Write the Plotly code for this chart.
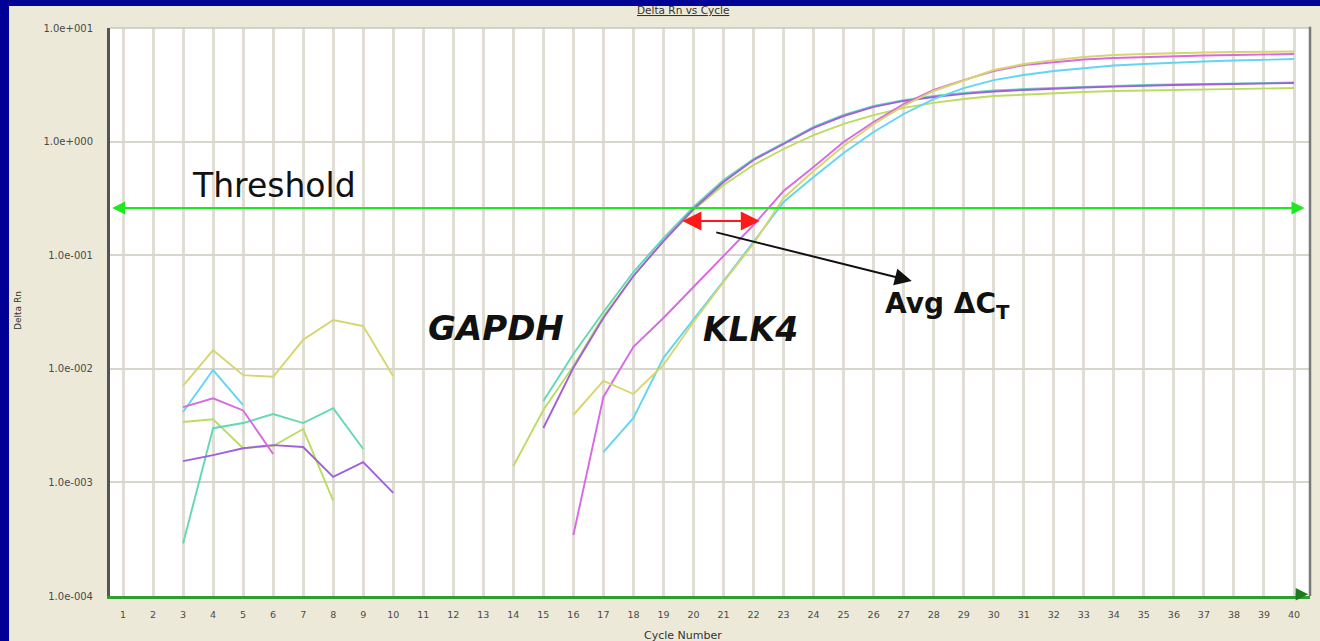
import math
import plotly.graph_objects as go

# ---- data -------------------------------------------------------------
CYCLES = list(range(1, 41))

THRESHOLD = 0.26

# Each well: early background readings (start cycle + values) and the
# amplification readings (start cycle + values). Missing cycles are gaps.
KLK4_YELLOW_BASE_START = 3
KLK4_YELLOW_BASE = [7.06e-3, 1.46e-2, 8.8e-3, 8.5e-3, 1.8e-2, 2.69e-2, 2.38e-2, 8.6e-3]
KLK4_YELLOW_AMP_START = 16
KLK4_YELLOW_AMP = [3.92e-3, 7.81e-3, 6.0e-3, 1.08e-2, 2.58e-2, 5.81e-2, 0.126, 0.319,
                   0.551, 0.915, 1.43, 2.06, 2.79, 3.48, 4.27, 4.82, 5.22, 5.56,
                   5.78, 5.90, 6.03, 6.09, 6.15, 6.15, 6.21]

KLK4_CYAN_BASE_START = 3
KLK4_CYAN_BASE = [4.17e-3, 9.75e-3, 4.8e-3]
KLK4_CYAN_AMP_START = 17
KLK4_CYAN_AMP = [1.85e-3, 3.69e-3, 1.25e-2, 2.69e-2, 5.93e-2, 0.131, 0.294, 0.488,
                 0.794, 1.215, 1.75, 2.37, 2.96, 3.48, 3.86, 4.18, 4.45, 4.68,
                 4.82, 4.97, 5.07, 5.17, 5.22, 5.33]

KLK4_MAGENTA_BASE_START = 3
KLK4_MAGENTA_BASE = [4.6e-3, 5.5e-3, 4.3e-3, 1.78e-3]
KLK4_MAGENTA_AMP_START = 16
KLK4_MAGENTA_AMP = [3.44e-4, 5.65e-3, 1.56e-2, 2.80e-2, 5.25e-2, 9.84e-2, 0.1845,
                    0.367, 0.597, 0.992, 1.49, 2.14, 2.85, 3.48, 4.18, 4.72, 5.02,
                    5.28, 5.45, 5.56, 5.67, 5.73, 5.78, 5.84, 5.90]

GAPDH_TEAL_BASE_START = 3
GAPDH_TEAL_BASE = [2.9e-4, 3.0e-3, 3.33e-3, 4.0e-3, 3.33e-3, 4.5e-3, 1.97e-3]
GAPDH_TEAL_AMP_START = 15
GAPDH_TEAL_AMP = [5.21e-3, 1.35e-2, 3.16e-2, 7.11e-2, 0.1416, 0.2655, 0.459, 0.703,
                  0.972, 1.345, 1.715, 2.06, 2.32, 2.52, 2.68, 2.82, 2.90, 2.96,
                  3.05, 3.12, 3.15, 3.18, 3.21, 3.25, 3.28, 3.31]

GAPDH_PURPLE_BASE_START = 3
GAPDH_PURPLE_BASE = [1.54e-3, 1.74e-3, 2.0e-3, 2.13e-3, 2.05e-3, 1.12e-3, 1.51e-3, 8.1e-4]
GAPDH_PURPLE_AMP_START = 15
GAPDH_PURPLE_AMP = [3.01e-3, 1.02e-2, 2.80e-2, 6.56e-2, 0.133, 0.255, 0.441, 0.689,
                    0.953, 1.32, 1.68, 2.02, 2.28, 2.47, 2.63, 2.76, 2.85, 2.90,
                    2.99, 3.05, 3.12, 3.15, 3.18, 3.21, 3.25, 3.28]

GAPDH_LIME_BASE_START = 3
GAPDH_LIME_BASE = [3.4e-3, 3.6e-3, 2.0e-3, 2.09e-3, 2.95e-3, 6.9e-4]
GAPDH_LIME_AMP_START = 14
GAPDH_LIME_AMP = [1.39e-3, 4.34e-3, 1.06e-2, 2.92e-2, 6.56e-2, 0.133, 0.250, 0.415,
                  0.622, 0.861, 1.14, 1.43, 1.71, 1.98, 2.19, 2.37, 2.52, 2.60,
                  2.68, 2.73, 2.79, 2.82, 2.85, 2.88, 2.90, 2.93, 2.96]

Y_TICK_VALUES = [1e-4, 1e-3, 1e-2, 1e-1, 1e0, 1e1]
Y_TICK_LABELS = ["1.0e-004", "1.0e-003", "1.0e-002", "1.0e-001", "1.0e+000", "1.0e+001"]

# Delta-Ct bracket (cycles where the two groups reach the threshold) and pointer
DCT_LEFT_CYCLE, DCT_RIGHT_CYCLE, DCT_LEVEL = 19.58, 22.21, 0.20
POINTER_FROM = (20.71, 0.16)
POINTER_TO = (27.27, 0.0593)

X_MIN, X_MAX = 0.567, 40.533
THRESHOLD_END = 40.35


def well(base_start, base, amp_start, amp):
    vals = [None] * len(CYCLES)
    for i, v in enumerate(base):
        vals[base_start - 1 + i] = v
    for i, v in enumerate(amp):
        vals[amp_start - 1 + i] = v
    return vals


wells = [
    ("GAPDH 1", "#bcdc60", well(GAPDH_LIME_BASE_START, GAPDH_LIME_BASE, GAPDH_LIME_AMP_START, GAPDH_LIME_AMP)),
    ("GAPDH 2", "#62d8b4", well(GAPDH_TEAL_BASE_START, GAPDH_TEAL_BASE, GAPDH_TEAL_AMP_START, GAPDH_TEAL_AMP)),
    ("GAPDH 3", "#a060dc", well(GAPDH_PURPLE_BASE_START, GAPDH_PURPLE_BASE, GAPDH_PURPLE_AMP_START, GAPDH_PURPLE_AMP)),
    ("KLK4 1", "#62d4f4", well(KLK4_CYAN_BASE_START, KLK4_CYAN_BASE, KLK4_CYAN_AMP_START, KLK4_CYAN_AMP)),
    ("KLK4 2", "#d868e4", well(KLK4_MAGENTA_BASE_START, KLK4_MAGENTA_BASE, KLK4_MAGENTA_AMP_START, KLK4_MAGENTA_AMP)),
    ("KLK4 3", "#d6d66c", well(KLK4_YELLOW_BASE_START, KLK4_YELLOW_BASE, KLK4_YELLOW_AMP_START, KLK4_YELLOW_AMP)),
]

fig = go.Figure()
for name, color, ys in wells:
    fig.add_trace(go.Scatter(
        x=CYCLES, y=ys, name=name, mode="lines", connectgaps=False,
        line=dict(color=color, width=1.9), showlegend=False, hoverinfo="x+y+name",
    ))

lg = math.log10
annotations = [
    # threshold line with arrowheads at both ends
    dict(x=THRESHOLD_END, y=lg(THRESHOLD), ax=X_MIN + 0.02, ay=lg(THRESHOLD), xref="x", yref="y",
         axref="x", ayref="y", text="", showarrow=True, arrowside="end+start",
         arrowhead=2, arrowsize=1.3, arrowwidth=2, arrowcolor="#1ee81e"),
    # delta-Ct bracket
    dict(x=DCT_RIGHT_CYCLE, y=lg(DCT_LEVEL), ax=DCT_LEFT_CYCLE, ay=lg(DCT_LEVEL), xref="x", yref="y",
         axref="x", ayref="y", text="", showarrow=True, arrowside="end+start",
         arrowhead=2, arrowsize=1.9, arrowwidth=2, arrowcolor="#ff1a1a"),
    # pointer to the label
    dict(x=POINTER_TO[0], y=lg(POINTER_TO[1]), ax=POINTER_FROM[0], ay=lg(POINTER_FROM[1]),
         xref="x", yref="y", axref="x", ayref="y", text="", showarrow=True,
         arrowhead=2, arrowsize=1.7, arrowwidth=2, arrowcolor="#111111"),
    # arrowhead at the end of the cycle axis
    dict(x=0.9985, y=0.003, xref="paper", yref="paper", ax=-14, ay=0, text="", showarrow=True,
         arrowhead=2, arrowsize=1, arrowwidth=2.5, arrowcolor="#1f7a1f"),
    # labels
    dict(x=6.03, y=-0.382, xref="x", yref="y", text="Threshold", showarrow=False,
         font=dict(family="DejaVu Sans", size=33, color="#111111")),
    dict(x=13.42, y=-1.641, xref="x", yref="y", text="<b><i>GAPDH</i></b>", showarrow=False,
         font=dict(family="DejaVu Sans", size=34, color="#111111")),
    dict(x=21.91, y=-1.658, xref="x", yref="y", text="<b><i>KLK4</i></b>", showarrow=False,
         font=dict(family="DejaVu Sans", size=33, color="#111111")),
    dict(x=28.45, y=-1.447, xref="x", yref="y", text="<b>Avg ΔC<sub>T</sub></b>", showarrow=False,
         font=dict(family="DejaVu Sans", size=28, color="#111111")),
    # titles
    dict(x=0.4775, y=1.0317, xref="paper", yref="paper", yanchor="middle",
         text="<u>Delta Rn vs Cycle</u>", showarrow=False,
         font=dict(family="DejaVu Sans", size=10.5, color="#333333")),
    dict(x=0.4775, y=-0.0704, xref="paper", yref="paper", yanchor="middle", text="Cycle Number",
         showarrow=False, font=dict(family="DejaVu Sans", size=11, color="#333333")),
    dict(x=-0.0767, y=0.5035, xref="paper", yref="paper", xanchor="center", yanchor="middle",
         text="Delta Rn", textangle=-90, showarrow=False,
         font=dict(family="DejaVu Sans", size=9, color="#333333")),
]

shapes = [
    # top and right frame of the plot area
    dict(type="line", xref="paper", yref="paper", x0=0, x1=1, y0=1, y1=1,
         line=dict(color="#c9c6bd", width=1.5), layer="above"),
    dict(type="line", xref="paper", yref="paper", x0=1, x1=1, y0=0, y1=1.002,
         line=dict(color="#7a7a7a", width=2.5), layer="above"),
    # slide border
    dict(type="rect", xref="paper", yref="paper", x0=-0.2, x1=-0.08417, y0=-0.2, y1=1.2,
         fillcolor="#000096", line=dict(width=0), layer="above"),
    dict(type="rect", xref="paper", yref="paper", x0=-0.2, x1=1.2, y0=1.03873, y1=1.2,
         fillcolor="#000096", line=dict(width=0), layer="above"),
]

fig.update_layout(
    width=1320, height=641,
    margin=dict(l=110, r=10, t=28, b=45),
    paper_bgcolor="#ece9d8", plot_bgcolor="#ffffff",
    annotations=annotations, shapes=shapes,
    font=dict(family="DejaVu Sans"),
    xaxis=dict(
        range=[X_MIN, X_MAX], tickmode="array", tickvals=CYCLES,
        ticktext=[str(c) for c in CYCLES], showgrid=True,
        gridcolor="#e0ddd5", gridwidth=2.5, zeroline=False,
        showline=True, linecolor="#2e9e2e", linewidth=3,
        ticks="", ticklabelstandoff=8,
        tickfont=dict(family="DejaVu Sans", size=9.5, color="#4a4a4a"),
    ),
    yaxis=dict(
        type="log", range=[-4, 1], tickmode="array", tickvals=Y_TICK_VALUES,
        ticktext=Y_TICK_LABELS, showgrid=True, gridcolor="#d8d5cc", gridwidth=2,
        zeroline=False, showline=True, linecolor="#555555", linewidth=3,
        ticks="", ticklabelstandoff=12,
        tickfont=dict(family="DejaVu Sans", size=10, color="#4a4a4a"),
    ),
)

fig.write_html("out.html")
